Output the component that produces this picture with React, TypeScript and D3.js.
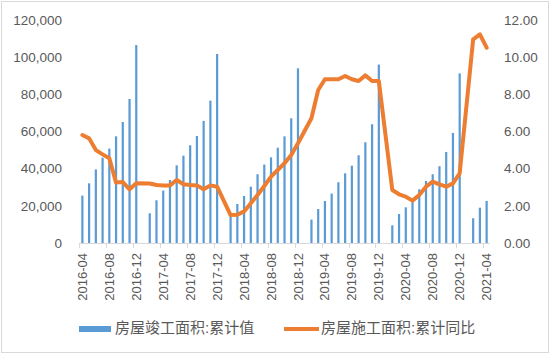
import React, { useEffect, useRef } from "react";
import * as d3 from "d3";

// months 2016-04 .. 2021-04 (category axis)
const months: string[] = [];
for (let y = 2016; y <= 2021; y++) {
  for (let m = 1; m <= 12; m++) {
    if (y === 2016 && m < 4) continue;
    if (y === 2021 && m > 4) break;
    months.push(`${y}-${String(m).padStart(2, "0")}`);
  }
}

// 房屋竣工面积:累计值 (January not reported)
const completedArea: (number | null)[] = [
  25500, 32100, 39600, 45900, 50800, 57400, 65100, 77500, 106500,
  null, 16000, 23000, 28200, 33900, 41800, 47000, 52600, 57600, 65700, 76600, 101700,
  null, 15500, 21000, 25300, 30300, 37000, 42200, 46100, 51300, 57400, 67100, 94000,
  null, 12600, 18300, 22600, 26600, 32700, 37500, 41600, 47200, 54200, 63900, 96000,
  null, 9500, 15600, 19200, 22300, 28900, 33400, 37000, 41300, 49000, 59200, 91300,
  null, 13300, 19000, 22600,
];

// 房屋施工面积:累计同比 (%)
const constructionYoY: (number | null)[] = [
  5.81, 5.63, 5.0, 4.77, 4.56, 3.25, 3.28, 2.89, 3.21,
  null, 3.2, 3.12, 3.1, 3.1, 3.39, 3.16, 3.12, 3.1, 2.89, 3.1, 3.03,
  null, 1.5, 1.52, 1.7, 2.14, 2.58, 3.07, 3.57, 3.93, 4.29, 4.74, 5.37,
  null, 6.71, 8.23, 8.81, 8.81, 8.81, 8.99, 8.81, 8.72, 9.02, 8.72, 8.72,
  null, 2.85, 2.62, 2.49, 2.28, 2.58, 3.03, 3.3, 3.16, 3.03, 3.21, 3.75,
  null, 10.96, 11.23, 10.51,
];

const leftTicks = [0, 20000, 40000, 60000, 80000, 100000, 120000];
const rightTicks = [0, 2, 4, 6, 8, 10, 12];
const legendLabels = ["房屋竣工面积:累计值", "房屋施工面积:累计同比"];

const W = 550;
const H = 354;
const BLUE = "#5B9BD5";
const ORANGE = "#ED7D31";
const TEXT = "#595959";
const FONT = "'Liberation Sans', 'Noto Sans CJK SC', sans-serif";

export default function App() {
  const svgRef = useRef<SVGSVGElement>(null);

  useEffect(() => {
    const svg = d3.select(svgRef.current);
    svg.selectAll("*").remove();

    const plot = { left: 79, right: 490, top: 20, bottom: 243 };

    // chart border
    svg
      .append("rect")
      .attr("x", 1.5)
      .attr("y", 1.5)
      .attr("width", W - 3)
      .attr("height", H - 3)
      .attr("fill", "white")
      .attr("stroke", "#D9D9D9");

    const x = d3
      .scaleBand<number>()
      .domain(months.map((_, i) => i))
      .range([plot.left, plot.right])
      .padding(0);

    const yLeft = d3.scaleLinear().domain([0, 120000]).range([plot.bottom, plot.top]);
    const yRight = d3.scaleLinear().domain([0, 12]).range([plot.bottom, plot.top]);

    // left axis labels
    svg
      .append("g")
      .selectAll("text")
      .data(leftTicks)
      .enter()
      .append("text")
      .attr("x", 62)
      .attr("y", (d) => yLeft(d))
      .attr("dy", "0.35em")
      .attr("text-anchor", "end")
      .attr("fill", TEXT)
      .style("font-family", FONT)
      .style("font-size", "13.5px")
      .text((d) => d3.format(",")(d));

    // right axis labels
    svg
      .append("g")
      .selectAll("text")
      .data(rightTicks)
      .enter()
      .append("text")
      .attr("x", 504)
      .attr("y", (d) => yRight(d))
      .attr("dy", "0.35em")
      .attr("fill", TEXT)
      .style("font-family", FONT)
      .style("font-size", "13.5px")
      .text((d) => d3.format(".2f")(d));

    // bars
    const bw = 2.2;
    svg
      .append("g")
      .selectAll("rect")
      .data(completedArea.map((v, i) => ({ v, i })).filter((d) => d.v != null))
      .enter()
      .append("rect")
      .attr("x", (d) => x(d.i)! + x.bandwidth() / 2 - bw / 2)
      .attr("y", (d) => yLeft(d.v as number))
      .attr("width", bw)
      .attr("height", (d) => plot.bottom - yLeft(d.v as number))
      .attr("fill", BLUE);

    // category axis
    const axis = svg.append("g");
    axis
      .append("line")
      .attr("x1", plot.left)
      .attr("x2", plot.right)
      .attr("y1", plot.bottom + 0.5)
      .attr("y2", plot.bottom + 0.5)
      .attr("stroke", "#D9D9D9");

    const labelIdx = months.map((_, i) => i).filter((i) => i % 4 === 0);
    axis
      .selectAll("line.tick")
      .data(labelIdx)
      .enter()
      .append("line")
      .attr("class", "tick")
      .attr("x1", (i) => Math.round(x(i)!) + 0.5)
      .attr("x2", (i) => Math.round(x(i)!) + 0.5)
      .attr("y1", plot.bottom)
      .attr("y2", plot.bottom + 5)
      .attr("stroke", "#D9D9D9");

    axis
      .selectAll("text")
      .data(labelIdx)
      .enter()
      .append("text")
      .attr("transform", (i) => `translate(${x(i)! + x.bandwidth() / 2},253) rotate(-90)`)
      .attr("dy", "0.35em")
      .attr("text-anchor", "end")
      .attr("fill", TEXT)
      .style("font-family", FONT)
      .style("font-size", "13px")
      .text((i) => months[i]);

    // line (January gaps connected)
    const linePts = constructionYoY
      .map((v, i) => ({ v, i }))
      .filter((d) => d.v != null);
    const line = d3
      .line<{ v: number | null; i: number }>()
      .x((d) => x(d.i)! + x.bandwidth() / 2)
      .y((d) => yRight(d.v as number));

    svg
      .append("path")
      .datum(linePts)
      .attr("d", line)
      .attr("fill", "none")
      .attr("stroke", ORANGE)
      .attr("stroke-width", 4)
      .attr("stroke-linejoin", "round")
      .attr("stroke-linecap", "round");

    // legend
    const legend = svg.append("g");
    legend
      .append("rect")
      .attr("x", 79)
      .attr("y", 326)
      .attr("width", 32)
      .attr("height", 6)
      .attr("fill", BLUE);
    legend
      .append("text")
      .attr("x", 115)
      .attr("y", 328)
      .attr("dy", "0.35em")
      .attr("fill", TEXT)
      .style("font-family", FONT)
      .style("font-size", "15px")
      .text(legendLabels[0]);
    legend
      .append("line")
      .attr("x1", 284)
      .attr("x2", 319)
      .attr("y1", 329)
      .attr("y2", 329)
      .attr("stroke", ORANGE)
      .attr("stroke-width", 4);
    legend
      .append("text")
      .attr("x", 321)
      .attr("y", 328)
      .attr("dy", "0.35em")
      .attr("fill", TEXT)
      .style("font-family", FONT)
      .style("font-size", "15px")
      .text(legendLabels[1]);
  }, []);

  return (
    <div style={{ position: "fixed", left: 0, top: 0 }}>
      <svg ref={svgRef} width={W} height={H} style={{ display: "block" }}></svg>
    </div>
  );
}
